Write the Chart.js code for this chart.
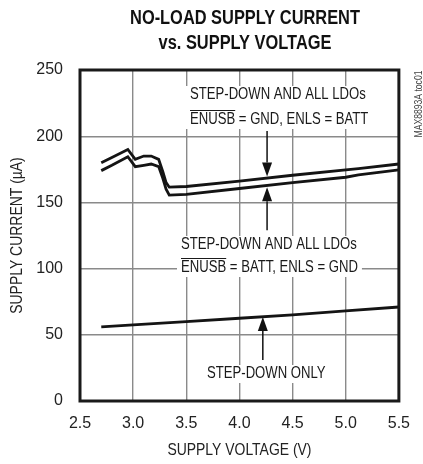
<!DOCTYPE html>
<html>
<head>
<meta charset="utf-8">
<script src="https://cdn.jsdelivr.net/npm/chart.js@4.4.1/dist/chart.umd.min.js"></script>
<style>
  html, body { margin: 0; padding: 0; background: #fff; }
  #wrap { width: 423px; height: 464px; }
</style>
</head>
<body>
<div id="wrap"><canvas id="chart" width="423" height="464"></canvas></div>
<script>
const SANS = "'Liberation Sans', Arial, sans-serif";
const SQUEEZE = 0.82; // no narrow face installed, so squeeze Liberation Sans by hand

// supply voltage (V) for the two "all LDOs" curves
const voltage = [2.7, 2.8, 2.95, 3.02, 3.1, 3.17, 3.24, 3.28, 3.31, 3.34, 3.5, 4.0, 4.5, 5.0, 5.12, 5.5];
// ENUSB = GND, ENLS = BATT (uA)
const currentGnd = [180, 184, 190, 182.5, 185, 185, 182.5, 173, 165, 161.5, 162, 166, 170.5, 174.5, 175.5, 179];
// ENUSB = BATT, ENLS = GND (uA)
const currentBatt = [174, 178, 184.5, 177, 178, 179, 177, 168, 160, 155.5, 156, 160.5, 165, 169, 170.8, 174.5];

// step-down only
const voltageSd = [2.7, 3.0, 3.5, 4.0, 4.5, 5.0, 5.5];
const currentSd = [56, 57.5, 60, 62.5, 65, 68, 71];

const xTickLabels = ['2.5', '3.0', '3.5', '4.0', '4.5', '5.0', '5.5'];
const yTickLabels = ['0', '50', '100', '150', '200', '250'];

const toPoints = (xs, ys) => xs.map((x, i) => ({ x: x, y: ys[i] }));

const lineStyle = {
    showLine: true,
    borderColor: '#141414',
    borderWidth: 2.8,
    pointRadius: 0,
    tension: 0,
    fill: false
};

// condensed text: draws at (x, y) with horizontal squeeze, returns drawn width
function ctext(ctx, text, x, y, align) {
    const w = ctx.measureText(text).width * SQUEEZE;
    let left = x;
    if (align === 'center') left = x - w / 2;
    if (align === 'right') left = x - w;
    ctx.save();
    ctx.textAlign = 'left';
    ctx.translate(left, y);
    ctx.scale(SQUEEZE, 1);
    ctx.fillText(text, 0, 0);
    ctx.restore();
    return w;
}

function arrow(ctx, x, yFrom, yTip) {
    const dir = yTip > yFrom ? 1 : -1;
    const headLen = 14, headW = 5;
    ctx.beginPath();
    ctx.moveTo(x, yFrom);
    ctx.lineTo(x, yTip - dir * headLen);
    ctx.stroke();
    ctx.beginPath();
    ctx.moveTo(x, yTip);
    ctx.lineTo(x - headW, yTip - dir * headLen);
    ctx.lineTo(x + headW, yTip - dir * headLen);
    ctx.closePath();
    ctx.fill();
}

// text block with a white box behind it, optional overline on the first word of line 2
function label(ctx, lines, x, y, lineGap, overline) {
    ctx.font = '16px ' + SANS;
    ctx.textBaseline = 'middle';
    const w = Math.max(...lines.map(l => ctx.measureText(l).width)) * SQUEEZE;
    ctx.fillStyle = '#fff';
    ctx.fillRect(x - 4, y - 9, w + 8, lineGap * (lines.length - 1) + 18);
    ctx.fillStyle = '#1a1a1a';
    lines.forEach((l, i) => ctext(ctx, l, x, y + i * lineGap, 'left'));
    if (overline) {
        const ow = ctx.measureText(overline).width * SQUEEZE;
        ctx.lineWidth = 1.2;
        ctx.strokeStyle = '#1a1a1a';
        ctx.beginPath();
        ctx.moveTo(x, y + lineGap - 9.5);
        ctx.lineTo(x + ow, y + lineGap - 9.5);
        ctx.stroke();
    }
}

const decorations = {
    id: 'decorations',
    afterDraw(chart) {
        const ctx = chart.ctx;
        const xs = chart.scales.x, ys = chart.scales.y;
        const a = chart.chartArea;
        ctx.save();

        // title
        ctx.fillStyle = '#111';
        ctx.textBaseline = 'middle';
        ctx.font = 'bold 20px ' + SANS;
        ctext(ctx, 'NO-LOAD SUPPLY CURRENT', 245, 18, 'center');
        ctext(ctx, 'vs. SUPPLY VOLTAGE', 245, 43, 'center');

        // axis titles
        ctx.fillStyle = '#222';
        ctx.font = '17px ' + SANS;
        ctext(ctx, 'SUPPLY VOLTAGE (V)', (a.left + a.right) / 2, 450, 'center');
        ctx.save();
        ctx.translate(17, (a.top + a.bottom) / 2);
        ctx.rotate(-Math.PI / 2);
        ctext(ctx, 'SUPPLY CURRENT (µA)', 0, 0, 'center');
        ctx.restore();

        // side code
        ctx.save();
        ctx.translate(419, 104);
        ctx.rotate(-Math.PI / 2);
        ctx.font = '10.5px ' + SANS;
        ctx.fillStyle = '#444';
        ctext(ctx, 'MAX8893A toc01', 0, 0, 'center');
        ctx.restore();

        // annotations
        label(ctx, ['STEP-DOWN AND ALL LDOs', 'ENUSB = GND, ENLS = BATT'], 190, 95, 25, 'ENUSB');
        label(ctx, ['STEP-DOWN AND ALL LDOs', 'ENUSB = BATT, ENLS = GND'], 181, 245, 23, 'ENUSB');
        label(ctx, ['STEP-DOWN ONLY'], 207, 374, 0, null);

        ctx.strokeStyle = '#111';
        ctx.fillStyle = '#111';
        ctx.lineWidth = 1.5;
        const ax = xs.getPixelForValue(4.26);
        arrow(ctx, ax, ys.getPixelForValue(204), ys.getPixelForValue(169.5));
        arrow(ctx, ax, ys.getPixelForValue(129), ys.getPixelForValue(161.5));
        arrow(ctx, xs.getPixelForValue(4.22), ys.getPixelForValue(31), ys.getPixelForValue(63.5));

        // frame
        ctx.lineWidth = 3;
        ctx.strokeStyle = '#1a1a1a';
        ctx.strokeRect(a.left, a.top, a.right - a.left, a.bottom - a.top);
        ctx.restore();
    }
};

new Chart(document.getElementById('chart'), {
    type: 'scatter',
    data: {
        datasets: [
            Object.assign({ label: 'ENUSB = GND, ENLS = BATT', data: toPoints(voltage, currentGnd) }, lineStyle),
            Object.assign({ label: 'ENUSB = BATT, ENLS = GND', data: toPoints(voltage, currentBatt) }, lineStyle),
            Object.assign({ label: 'STEP-DOWN ONLY', data: toPoints(voltageSd, currentSd) }, lineStyle)
        ]
    },
    options: {
        responsive: false,
        animation: false,
        events: [],
        layout: { padding: { top: 70, right: 12, left: 0, bottom: 0 } },
        plugins: { legend: { display: false }, tooltip: { enabled: false } },
        scales: {
            x: {
                type: 'linear',
                min: 2.5,
                max: 5.5,
                afterFit: s => { s.height = 63; },
                ticks: {
                    stepSize: 0.5,
                    callback: (v, i) => xTickLabels[i],
                    font: { family: SANS, size: 16 },
                    color: '#222',
                    padding: 13,
                    maxRotation: 0
                },
                grid: { color: '#8a8a8a', lineWidth: 1.4, drawTicks: false },
                border: { display: false }
            },
            y: {
                min: 0,
                max: 250,
                afterFit: s => { s.width = 80; },
                ticks: {
                    stepSize: 50,
                    callback: (v, i) => yTickLabels[i],
                    font: { family: SANS, size: 16 },
                    color: '#222',
                    padding: 17
                },
                grid: { color: '#8a8a8a', lineWidth: 1.4, drawTicks: false },
                border: { display: false }
            }
        }
    },
    plugins: [decorations]
});
</script>
</body>
</html>
